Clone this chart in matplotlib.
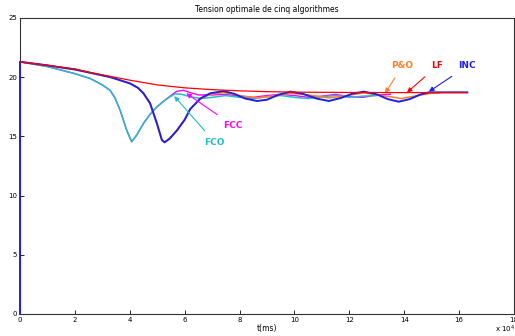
"""Tension optimale de cinq algorithmes MPPT (LF, P&O, INC, FCC, FCO)."""

import matplotlib
matplotlib.use("Agg")
import matplotlib.pyplot as plt

# ── Data (t in units of 1e4 ms, tension in V) ────────────────────────────────

t_lf = [0, 1, 2, 2.55, 3, 4, 5, 6, 7, 8, 9, 10, 12, 14, 16.3]
v_lf = [21.3, 21.0, 20.7, 20.4, 20.2, 19.75, 19.35, 19.1, 18.95, 18.85,
        18.78, 18.74, 18.71, 18.7, 18.7]

t_inc = [0, 0, 1, 2, 2.55, 3.3, 4.0, 4.3, 4.5, 4.74, 4.99, 5.17, 5.27,
         5.45, 5.72, 6.0, 6.2, 6.57, 6.93, 7.42, 7.8, 8.2, 8.64, 9.0, 9.4,
         9.85, 10.3, 10.8, 11.25, 11.7, 12.1, 12.53, 13.0, 13.4, 13.8,
         14.2, 14.6, 14.9, 15.5, 16.3]
v_inc = [0, 21.3, 21.0, 20.65, 20.38, 20.0, 19.48, 19.1, 18.64, 17.8,
         16.1, 14.7, 14.5, 14.8, 15.5, 16.4, 17.3, 18.2, 18.64, 18.83,
         18.6, 18.2, 17.99, 18.1, 18.5, 18.78, 18.6, 18.2, 17.99, 18.25,
         18.6, 18.78, 18.55, 18.15, 17.93, 18.15, 18.55, 18.72, 18.72,
         18.72]

t_po = [0, 1, 2, 2.55, 3.3, 4.0, 4.3, 4.5, 4.74, 4.99, 5.17, 5.27, 5.45,
        5.72, 6.0, 6.2, 6.57, 6.93, 7.42, 8.0, 8.64, 9.2, 9.85, 10.5,
        11.25, 11.8, 12.53, 13.2, 13.9, 14.5, 15.0, 15.3]
v_po = [21.3, 21.0, 20.65, 20.38, 20.0, 19.48, 19.1, 18.6, 17.75, 16.0,
        14.65, 14.5, 14.85, 15.55, 16.45, 17.3, 18.15, 18.55, 18.7, 18.45,
        18.25, 18.4, 18.65, 18.5, 18.25, 18.4, 18.68, 18.45, 18.2, 18.45,
        18.65, 18.68]

t_fcc = [0, 1, 2, 2.55, 3.0, 3.28, 3.45, 3.65, 3.89, 4.07, 4.25, 4.5,
         4.75, 4.99, 5.25, 5.47, 5.7, 5.95, 6.2, 6.5, 7.0, 7.5, 8.0, 8.5,
         9.0, 9.5, 10.0, 10.5, 11.0, 11.5, 12.0, 12.5, 13.0, 13.5]
v_fcc = [21.3, 20.9, 20.3, 19.9, 19.35, 18.9, 18.3, 17.2, 15.5, 14.55,
         15.1, 16.1, 16.9, 17.5, 18.0, 18.4, 18.8, 18.9, 18.7, 18.5, 18.5,
         18.55, 18.4, 18.3, 18.45, 18.55, 18.45, 18.3, 18.4, 18.55, 18.35,
         18.3, 18.5, 18.55]

t_fco = [0, 1, 2, 2.55, 3.0, 3.28, 3.45, 3.65, 3.89, 4.07, 4.25, 4.5,
         4.75, 4.99, 5.25, 5.47, 5.66, 5.9, 6.2, 6.6, 7.0, 7.5, 8.0, 8.5,
         9.0, 9.5, 10.0, 10.5, 11.0, 11.5, 12.0, 12.5, 13.0]
v_fco = [21.3, 20.9, 20.3, 19.9, 19.35, 18.9, 18.3, 17.2, 15.5, 14.55,
         15.1, 16.1, 16.9, 17.5, 18.0, 18.35, 18.6, 18.55, 18.35, 18.2,
         18.3, 18.45, 18.3, 18.2, 18.35, 18.45, 18.3, 18.2, 18.35, 18.45,
         18.3, 18.4, 18.45]

# label, text position, arrow target, colour
LABELS = [
    ("P&O", (13.94, 20.95), (13.3, 18.64), "#ff7f27"),
    ("LF",  (15.2, 20.95),  (14.1, 18.7),  "#ff0000"),
    ("INC", (16.3, 20.95),  (14.9, 18.78), "#1f1fe6"),
    ("FCC", (7.74, 15.96),  (6.06, 18.64), "#ff00ff"),
    ("FCO", (7.1, 14.5),    (5.62, 18.4),  "#1fbfc8"),
]

X_TICKS = list(range(0, 19, 2))
Y_TICKS = list(range(0, 26, 5))

# ── Plot ─────────────────────────────────────────────────────────────────────

fig = plt.figure(figsize=(5.15, 3.36), dpi=100)
ax = fig.add_axes([20 / 515, 1 - 314 / 336, 494 / 515, 296 / 336])

ax.plot(t_fcc, v_fcc, color="#ff00ff", lw=1.0)
ax.plot(t_fco, v_fco, color="#1fbfc8", lw=1.1)
ax.plot(t_po, v_po, color="#ff7f27", lw=1.1)
ax.plot(t_inc, v_inc, color="#2020e0", lw=1.4, clip_on=False, zorder=3)
ax.plot(t_lf, v_lf, color="#ff0000", lw=0.9, zorder=3.1)

for text, xytext, xy, col in LABELS:
    ax.annotate(text, xy=xy, xytext=xytext, color=col, fontsize=6.5,
                fontweight="bold", ha="center", va="center",
                arrowprops=dict(arrowstyle="-|>", color=col, lw=0.8,
                                mutation_scale=7, shrinkA=4, shrinkB=0))

ax.set_xlim(0, 18)
ax.set_ylim(0, 25)
ax.set_xticks(X_TICKS)
ax.set_yticks(Y_TICKS)
ax.tick_params(direction="in", length=3, width=0.6, labelsize=5, pad=2,
               top=False, right=False)
for s in ax.spines.values():
    s.set_linewidth(0.8)
    s.set_color("#333333")

ax.set_title("Tension optimale de cinq algorithmes", fontsize=5.5, pad=4)
ax.set_xlabel("t(ms)", fontsize=5.5, labelpad=1)
fig.text(495 / 515, 1 - 329 / 336, r"x 10$^4$", fontsize=5, ha="left",
         va="center")

fig.savefig("out.png", dpi=100)
